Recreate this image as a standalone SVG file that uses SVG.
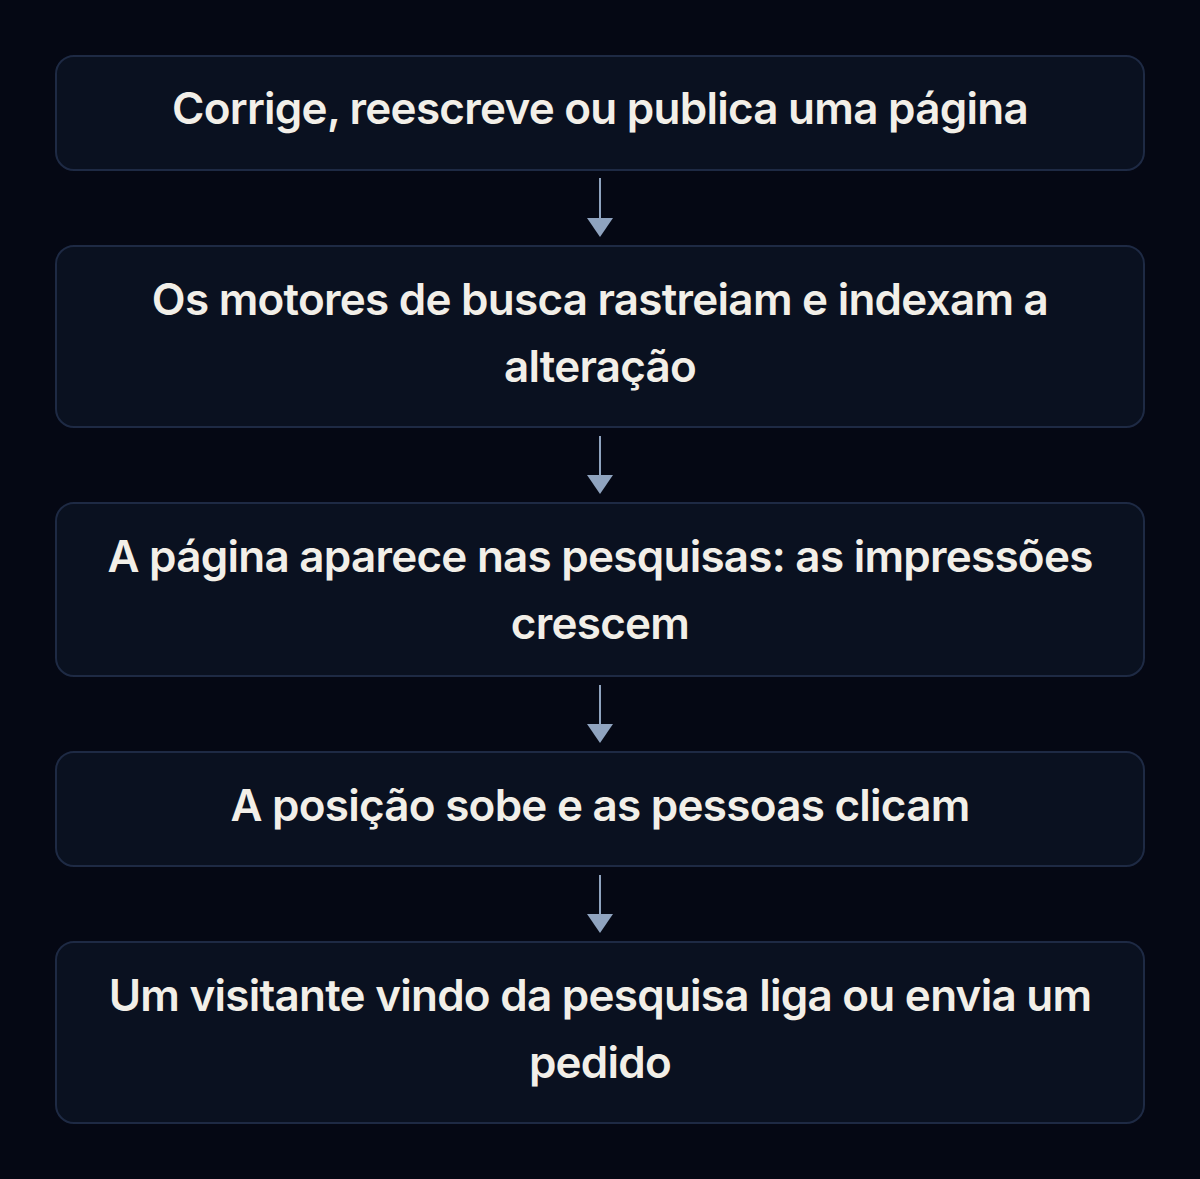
<svg xmlns="http://www.w3.org/2000/svg" width="1200" height="1179" viewBox="0 0 1200 1179">
<defs>
<style>
.box{fill:#0a1120;stroke:#1e2a44;stroke-width:2}
.t{font-family:Inter,"Noto Sans","Liberation Sans",sans-serif;font-size:44px;font-weight:600;letter-spacing:-0.75px;fill:#f2efe8;text-anchor:middle}
.c{stroke:#8fa3bf;stroke-width:2;fill:none}
.h{fill:#8fa3bf}
</style>
</defs>
<rect width="1200" height="1179" fill="#050814"/>
<g id="n1"><rect class="box" x="56" y="56" width="1088" height="114" rx="18"/><text class="t" x="600" y="124">Corrige, reescreve ou publica uma página</text></g>
<g id="n2"><rect class="box" x="56" y="246" width="1088" height="181" rx="18"/><text class="t" x="600" y="315">Os motores de busca rastreiam e indexam a</text><text class="t" x="600" y="382">alteração</text></g>
<g id="n3"><rect class="box" x="56" y="503" width="1088" height="173" rx="18"/><text class="t" x="600" y="572">A página aparece nas pesquisas: as impressões</text><text class="t" x="600" y="639">crescem</text></g>
<g id="n4"><rect class="box" x="56" y="752" width="1088" height="114" rx="18"/><text class="t" x="600" y="821">A posição sobe e as pessoas clicam</text></g>
<g id="n5"><rect class="box" x="56" y="942" width="1088" height="181" rx="18"/><text class="t" x="600" y="1011">Um visitante vindo da pesquisa liga ou envia um</text><text class="t" x="600" y="1078">pedido</text></g>
<g id="connectors">
<line class="c" x1="600" y1="178" x2="600" y2="220"/><polygon class="h" points="587,218 613,218 600,237"/>
<line class="c" x1="600" y1="436" x2="600" y2="477"/><polygon class="h" points="587,475 613,475 600,494"/>
<line class="c" x1="600" y1="685" x2="600" y2="726"/><polygon class="h" points="587,724 613,724 600,743"/>
<line class="c" x1="600" y1="875" x2="600" y2="916"/><polygon class="h" points="587,914 613,914 600,933"/>
</g>
</svg>
